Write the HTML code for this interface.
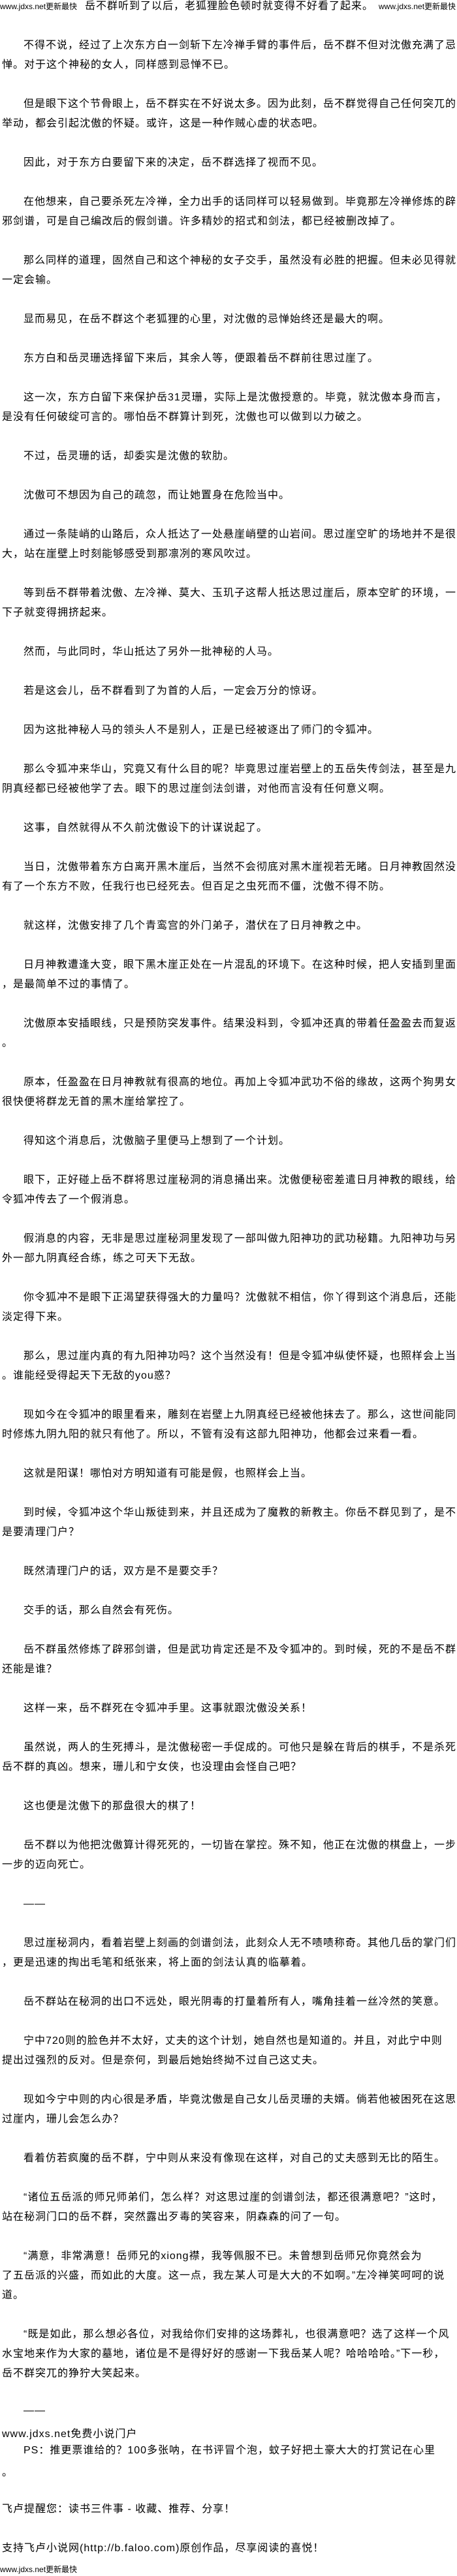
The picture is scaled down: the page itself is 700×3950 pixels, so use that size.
<!DOCTYPE html>
<html><head><meta charset="utf-8">
<style>
html,body{margin:0;padding:0;background:#fff;}
body{width:700px;height:3950px;position:relative;overflow:hidden;
font-family:"Liberation Sans","Noto Sans CJK SC","WenQuanYi Zen Hei",sans-serif;color:#000;}
.l{position:absolute;height:30px;line-height:30px;font-size:16px;letter-spacing:1px;white-space:nowrap;}
.s{position:absolute;height:20px;line-height:20px;font-size:12px;white-space:nowrap;letter-spacing:0;}
</style></head><body>
<div class="s" style="top:0;left:0">www.jdxs.net更新最快</div>
<div class="l" style="top:-5px;left:130px">岳不群听到了以后，老狐狸脸色顿时就变得不好看了起来。</div>
<div class="s" style="top:0;left:580px">www.jdxs.net更新最快</div>

<div class="l" style="top:55px;left:36px">不得不说，经过了上次东方白一剑斩下左冷禅手臂的事件后，岳不群不但对沈傲充满了忌</div>
<div class="l" style="top:85px;left:3px">惮。对于这个神秘的女人，同样感到忌惮不已。</div>
<div class="l" style="top:145px;left:36px">但是眼下这个节骨眼上，岳不群实在不好说太多。因为此刻，岳不群觉得自己任何突兀的</div>
<div class="l" style="top:175px;left:3px">举动，都会引起沈傲的怀疑。或许，这是一种作贼心虚的状态吧。</div>
<div class="l" style="top:235px;left:36px">因此，对于东方白要留下来的决定，岳不群选择了视而不见。</div>
<div class="l" style="top:295px;left:36px">在他想来，自己要杀死左冷禅，全力出手的话同样可以轻易做到。毕竟那左冷禅修炼的辟</div>
<div class="l" style="top:325px;left:3px">邪剑谱，可是自己编改后的假剑谱。许多精妙的招式和剑法，都已经被删改掉了。</div>
<div class="l" style="top:385px;left:36px">那么同样的道理，固然自己和这个神秘的女子交手，虽然没有必胜的把握。但未必见得就</div>
<div class="l" style="top:415px;left:3px">一定会输。</div>
<div class="l" style="top:475px;left:36px">显而易见，在岳不群这个老狐狸的心里，对沈傲的忌惮始终还是最大的啊。</div>
<div class="l" style="top:535px;left:36px">东方白和岳灵珊选择留下来后，其余人等，便跟着岳不群前往思过崖了。</div>
<div class="l" style="top:595px;left:36px">这一次，东方白留下来保护岳31灵珊，实际上是沈傲授意的。毕竟，就沈傲本身而言，</div>
<div class="l" style="top:625px;left:3px">是没有任何破绽可言的。哪怕岳不群算计到死，沈傲也可以做到以力破之。</div>
<div class="l" style="top:685px;left:36px">不过，岳灵珊的话，却委实是沈傲的软肋。</div>
<div class="l" style="top:745px;left:36px">沈傲可不想因为自己的疏忽，而让她置身在危险当中。</div>
<div class="l" style="top:805px;left:36px">通过一条陡峭的山路后，众人抵达了一处悬崖峭壁的山岩间。思过崖空旷的场地并不是很</div>
<div class="l" style="top:835px;left:3px">大，站在崖壁上时刻能够感受到那凛冽的寒风吹过。</div>
<div class="l" style="top:895px;left:36px">等到岳不群带着沈傲、左冷禅、莫大、玉玑子这帮人抵达思过崖后，原本空旷的环境，一</div>
<div class="l" style="top:925px;left:3px">下子就变得拥挤起来。</div>
<div class="l" style="top:985px;left:36px">然而，与此同时，华山抵达了另外一批神秘的人马。</div>
<div class="l" style="top:1045px;left:36px">若是这会儿，岳不群看到了为首的人后，一定会万分的惊讶。</div>
<div class="l" style="top:1105px;left:36px">因为这批神秘人马的领头人不是别人，正是已经被逐出了师门的令狐冲。</div>
<div class="l" style="top:1165px;left:36px">那么令狐冲来华山，究竟又有什么目的呢？毕竟思过崖岩壁上的五岳失传剑法，甚至是九</div>
<div class="l" style="top:1195px;left:3px">阴真经都已经被他学了去。眼下的思过崖剑法剑谱，对他而言没有任何意义啊。</div>
<div class="l" style="top:1255px;left:36px">这事，自然就得从不久前沈傲设下的计谋说起了。</div>
<div class="l" style="top:1315px;left:36px">当日，沈傲带着东方白离开黑木崖后，当然不会彻底对黑木崖视若无睹。日月神教固然没</div>
<div class="l" style="top:1345px;left:3px">有了一个东方不败，任我行也已经死去。但百足之虫死而不僵，沈傲不得不防。</div>
<div class="l" style="top:1405px;left:36px">就这样，沈傲安排了几个青鸾宫的外门弟子，潜伏在了日月神教之中。</div>
<div class="l" style="top:1465px;left:36px">日月神教遭逢大变，眼下黑木崖正处在一片混乱的环境下。在这种时候，把人安插到里面</div>
<div class="l" style="top:1495px;left:3px">，是最简单不过的事情了。</div>
<div class="l" style="top:1555px;left:36px">沈傲原本安插眼线，只是预防突发事件。结果没料到，令狐冲还真的带着任盈盈去而复返</div>
<div class="l" style="top:1585px;left:3px">。</div>
<div class="l" style="top:1645px;left:36px">原本，任盈盈在日月神教就有很高的地位。再加上令狐冲武功不俗的缘故，这两个狗男女</div>
<div class="l" style="top:1675px;left:3px">很快便将群龙无首的黑木崖给掌控了。</div>
<div class="l" style="top:1735px;left:36px">得知这个消息后，沈傲脑子里便马上想到了一个计划。</div>
<div class="l" style="top:1795px;left:36px">眼下，正好碰上岳不群将思过崖秘洞的消息捅出来。沈傲便秘密差遣日月神教的眼线，给</div>
<div class="l" style="top:1825px;left:3px">令狐冲传去了一个假消息。</div>
<div class="l" style="top:1885px;left:36px">假消息的内容，无非是思过崖秘洞里发现了一部叫做九阳神功的武功秘籍。九阳神功与另</div>
<div class="l" style="top:1915px;left:3px">外一部九阴真经合练，练之可天下无敌。</div>
<div class="l" style="top:1975px;left:36px">你令狐冲不是眼下正渴望获得强大的力量吗？沈傲就不相信，你丫得到这个消息后，还能</div>
<div class="l" style="top:2005px;left:3px">淡定得下来。</div>
<div class="l" style="top:2065px;left:36px">那么，思过崖内真的有九阳神功吗？这个当然没有！但是令狐冲纵使怀疑，也照样会上当</div>
<div class="l" style="top:2095px;left:3px">。谁能经受得起天下无敌的you惑？</div>
<div class="l" style="top:2155px;left:36px">现如今在令狐冲的眼里看来，雕刻在岩壁上九阴真经已经被他抹去了。那么，这世间能同</div>
<div class="l" style="top:2185px;left:3px">时修炼九阴九阳的就只有他了。所以，不管有没有这部九阳神功，他都会过来看一看。</div>
<div class="l" style="top:2245px;left:36px">这就是阳谋！哪怕对方明知道有可能是假，也照样会上当。</div>
<div class="l" style="top:2305px;left:36px">到时候，令狐冲这个华山叛徒到来，并且还成为了魔教的新教主。你岳不群见到了，是不</div>
<div class="l" style="top:2335px;left:3px">是要清理门户？</div>
<div class="l" style="top:2395px;left:36px">既然清理门户的话，双方是不是要交手？</div>
<div class="l" style="top:2455px;left:36px">交手的话，那么自然会有死伤。</div>
<div class="l" style="top:2515px;left:36px">岳不群虽然修炼了辟邪剑谱，但是武功肯定还是不及令狐冲的。到时候，死的不是岳不群</div>
<div class="l" style="top:2545px;left:3px">还能是谁？</div>
<div class="l" style="top:2605px;left:36px">这样一来，岳不群死在令狐冲手里。这事就跟沈傲没关系！</div>
<div class="l" style="top:2665px;left:36px">虽然说，两人的生死搏斗，是沈傲秘密一手促成的。可他只是躲在背后的棋手，不是杀死</div>
<div class="l" style="top:2695px;left:3px">岳不群的真凶。想来，珊儿和宁女侠，也没理由会怪自己吧？</div>
<div class="l" style="top:2755px;left:36px">这也便是沈傲下的那盘很大的棋了！</div>
<div class="l" style="top:2815px;left:36px">岳不群以为他把沈傲算计得死死的，一切皆在掌控。殊不知，他正在沈傲的棋盘上，一步</div>
<div class="l" style="top:2845px;left:3px">一步的迈向死亡。</div>
<div class="l" style="top:2905px;left:36px">——</div>
<div class="l" style="top:2965px;left:36px">思过崖秘洞内，看着岩壁上刻画的剑谱剑法，此刻众人无不啧啧称奇。其他几岳的掌门们</div>
<div class="l" style="top:2995px;left:3px">，更是迅速的掏出毛笔和纸张来，将上面的剑法认真的临摹着。</div>
<div class="l" style="top:3055px;left:36px">岳不群站在秘洞的出口不远处，眼光阴毒的打量着所有人，嘴角挂着一丝冷然的笑意。</div>
<div class="l" style="top:3115px;left:36px">宁中720则的脸色并不太好，丈夫的这个计划，她自然也是知道的。并且，对此宁中则</div>
<div class="l" style="top:3145px;left:3px">提出过强烈的反对。但是奈何，到最后她始终拗不过自己这丈夫。</div>
<div class="l" style="top:3205px;left:36px">现如今宁中则的内心很是矛盾，毕竟沈傲是自己女儿岳灵珊的夫婿。倘若他被困死在这思</div>
<div class="l" style="top:3235px;left:3px">过崖内，珊儿会怎么办？</div>
<div class="l" style="top:3295px;left:36px">看着仿若疯魔的岳不群，宁中则从来没有像现在这样，对自己的丈夫感到无比的陌生。</div>
<div class="l" style="top:3355px;left:36px">“诸位五岳派的师兄师弟们，怎么样？对这思过崖的剑谱剑法，都还很满意吧？”这时，</div>
<div class="l" style="top:3385px;left:3px">站在秘洞门口的岳不群，突然露出歹毒的笑容来，阴森森的问了一句。</div>
<div class="l" style="top:3445px;left:36px">“满意，非常满意！岳师兄的xiong襟，我等佩服不已。未曾想到岳师兄你竟然会为</div>
<div class="l" style="top:3475px;left:3px">了五岳派的兴盛，而如此的大度。这一点，我左某人可是大大的不如啊。”左冷禅笑呵呵的说</div>
<div class="l" style="top:3505px;left:3px">道。</div>
<div class="l" style="top:3565px;left:36px">“既是如此，那么想必各位，对我给你们安排的这场葬礼，也很满意吧？选了这样一个风</div>
<div class="l" style="top:3595px;left:3px">水宝地来作为大家的墓地，诸位是不是得好好的感谢一下我岳某人呢？哈哈哈哈。”下一秒，</div>
<div class="l" style="top:3625px;left:3px">岳不群突兀的狰狞大笑起来。</div>
<div class="l" style="top:3682px;left:36px">——</div>
<div class="l" style="top:3718px;left:3px">www.jdxs.net免费小说门户</div>
<div class="l" style="top:3743px;left:36px">PS：推更票谁给的？100多张呐，在书评冒个泡，蚊子好把土豪大大的打赏记在心里</div>
<div class="l" style="top:3777px;left:3px">。</div>
<div class="l" style="top:3833px;left:3px">飞卢提醒您：读书三件事 - 收藏、推荐、分享！</div>
<div class="l" style="top:3893px;left:3px">支持飞卢小说网(http://b.faloo.com)原创作品，尽享阅读的喜悦！</div>
<div class="s" style="top:3930px;left:0">www.jdxs.net更新最快</div>
</body></html>
